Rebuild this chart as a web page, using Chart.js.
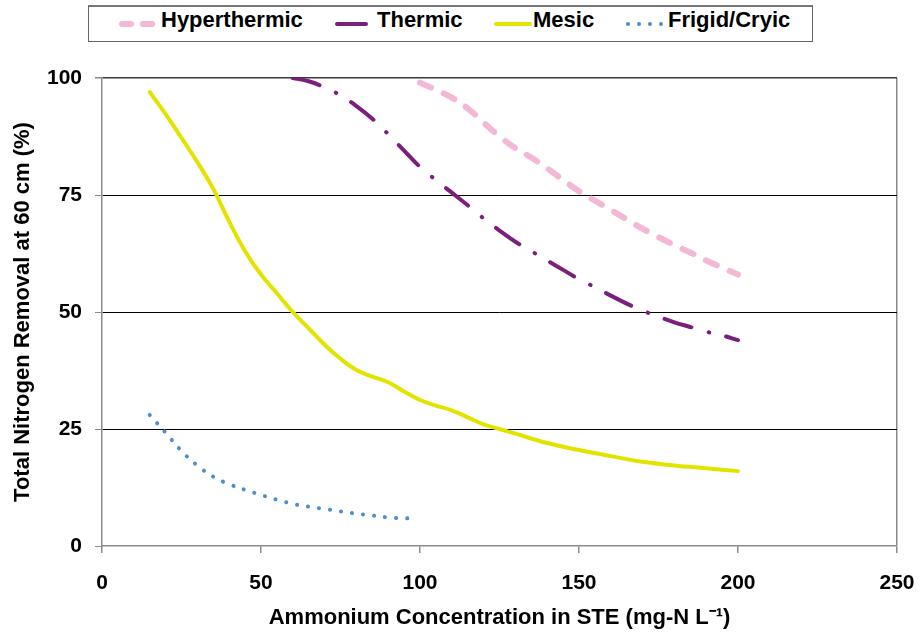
<!DOCTYPE html>
<html>
<head>
<meta charset="utf-8">
<script src="https://cdn.jsdelivr.net/npm/chart.js@4.4.1/dist/chart.umd.min.js"></script>
<style>
  body { margin: 0; background: #fff; }
  #wrap { position: relative; width: 921px; height: 636px; }
  #leyenda {
    position: absolute; left: 88px; top: 5px; width: 723px; height: 34px;
    border: 1px solid #666; border-top: 2px solid #777; background: #fff;
  }
  #leyenda svg { position: absolute; left: 0; top: 0; }
  #leyenda span {
    position: absolute; top: 0; line-height: 34px;
    font: bold 22px "Liberation Sans", Arial, sans-serif; color: #000; white-space: nowrap;
  }
</style>
</head>
<body>
<div id="wrap">
  <canvas id="grafica" width="921" height="636"></canvas>
  <div id="leyenda">
    <svg width="723" height="34">
      <line x1="33" y1="17" x2="42" y2="17" stroke="#F2B8D5" stroke-width="6" stroke-linecap="round"/>
      <line x1="54" y1="17" x2="63" y2="17" stroke="#F2B8D5" stroke-width="6" stroke-linecap="round"/>
      <line x1="248" y1="17" x2="277" y2="17" stroke="#7B1F7D" stroke-width="4" stroke-linecap="round"/>
      <line x1="407" y1="17" x2="441" y2="17" stroke="#E3E300" stroke-width="4" stroke-linecap="round"/>
      <circle cx="539" cy="17" r="2" fill="#4F8DCB"/>
      <circle cx="550" cy="17" r="2" fill="#4F8DCB"/>
      <circle cx="561" cy="17" r="2" fill="#4F8DCB"/>
      <circle cx="572" cy="17" r="2" fill="#4F8DCB"/>
    </svg>
    <span style="left:72px">Hyperthermic</span>
    <span style="left:288px">Thermic</span>
    <span style="left:444px">Mesic</span>
    <span style="left:579px">Frigid/Cryic</span>
  </div>
</div>
<script>
// concentraciones (mg-N/L) y remocion (%) de cada regimen de temperatura
const xHiper = [100, 105, 110, 115, 120, 125, 130, 135, 140, 145, 150, 155, 160, 165, 170, 175, 180, 185, 190, 195, 200];
const yHiper = [99, 97.5, 95.8, 93.5, 90.5, 87.5, 85, 83, 80.7, 78.2, 75.8, 73.8, 71.8, 69.8, 67.8, 66, 64.3, 62.7, 61, 59.5, 58];

const xTermico = [60, 65, 70, 75, 80, 85, 90, 95, 100, 105, 110, 115, 120, 125, 130, 135, 140, 145, 150, 155, 160, 165, 170, 175, 180, 185, 190, 195, 200];
const yTermico = [100, 99.3, 98, 96.3, 94, 91.3, 88, 84.5, 81, 78.2, 75.5, 72.8, 70, 67.4, 65, 63, 61, 59, 57, 55.3, 53.5, 51.8, 50.3, 49, 47.8, 46.8, 45.8, 45, 44];

const xMesico = [15, 20, 25, 30, 35, 40, 45, 50, 55, 60, 65, 70, 75, 80, 85, 90, 95, 100, 105, 110, 115, 120, 125, 130, 140, 150, 160, 170, 180, 190, 200];
const yMesico = [97, 92.3, 87.2, 82, 76.3, 69.3, 63, 58, 54, 50, 46.5, 43, 40, 37.6, 36.2, 35, 33, 31.2, 30, 29, 27.5, 26, 25, 24, 22, 20.5, 19.2, 18, 17.2, 16.6, 16];

const xFrigido = [15, 20, 25, 30, 35, 40, 45, 50, 55, 60, 65, 70, 75, 80, 85, 90, 95, 98];
const yFrigido = [28, 24.2, 20.3, 17.2, 14.8, 13.2, 12, 10.9, 9.9, 9, 8.4, 7.9, 7.4, 6.9, 6.5, 6.1, 5.9, 6];

const ticksX = [0, 50, 100, 150, 200, 250];
const ticksY = [0, 25, 50, 75, 100];

const etiquetas = ['Hyperthermic', 'Thermic', 'Mesic', 'Frigid/Cryic'];

// junta los arreglos x,y en puntos para la grafica
function puntos(xs, ys) {
    return xs.map((x, i) => ({ x: x, y: ys[i] }));
}

const fuente = '"Liberation Sans", Arial, sans-serif';

window.onload = function () {
    var ctx = document.getElementById('grafica').getContext('2d');

    new Chart(ctx, {
        type: 'line',
        data: {
            datasets: [{
                label: etiquetas[0],
                data: puntos(xHiper, yHiper),
                borderColor: '#F2B8D5',
                borderWidth: 6,
                borderDash: [12, 14],
                borderCapStyle: 'round'
            }, {
                label: etiquetas[1],
                data: puntos(xTermico, yTermico),
                borderColor: '#7B1F7D',
                borderWidth: 4,
                borderDash: [28, 18, 0.5, 17.5],
                borderCapStyle: 'round'
            }, {
                label: etiquetas[2],
                data: puntos(xMesico, yMesico),
                borderColor: '#E3E300',
                borderWidth: 4,
                borderCapStyle: 'round'
            }, {
                label: etiquetas[3],
                data: puntos(xFrigido, yFrigido),
                borderColor: '#4F8DCB',
                borderWidth: 4,
                borderDash: [0.1, 11],
                borderCapStyle: 'round'
            }]
        },
        options: {
            responsive: false,
            animation: false,
            events: [],
            layout: { padding: { top: 78, right: 24, bottom: 0, left: 0 } },
            elements: {
                point: { radius: 0 },
                line: { tension: 0.4, fill: false }
            },
            plugins: { legend: { display: false }, tooltip: { enabled: false } },
            scales: {
                x: {
                    type: 'linear',
                    min: ticksX[0],
                    max: ticksX[ticksX.length - 1],
                    afterBuildTicks: s => { s.ticks = ticksX.map(v => ({ value: v })); },
                    // el ultimo rotulo cabe en el margen derecho
                    afterFit: s => { s.height = 90; s.paddingRight = 0; s.paddingLeft = 0; },
                    ticks: { color: '#000', padding: 18, font: { family: fuente, size: 21, weight: 'bold' } },
                    grid: {
                        color: c => (c.tick && c.tick.value === 250) ? '#8a8a8a' : 'rgba(0,0,0,0)',
                        lineWidth: 1.5,
                        tickColor: '#8a8a8a',
                        tickLength: 7
                    },
                    border: { color: '#8a8a8a', width: 1.5 },
                    title: {
                        display: true,
                        text: 'Ammonium Concentration in STE (mg-N L\u207B\u00B9)',
                        color: '#000',
                        font: { family: fuente, size: 22, weight: 'bold' },
                        padding: { top: 0, bottom: 5 }
                    }
                },
                y: {
                    min: ticksY[0],
                    max: ticksY[ticksY.length - 1],
                    afterBuildTicks: s => { s.ticks = ticksY.map(v => ({ value: v })); },
                    afterFit: s => { s.width = 102; },
                    ticks: { color: '#000', padding: 13, font: { family: fuente, size: 21, weight: 'bold' } },
                    grid: {
                        color: c => (c.tick && c.tick.value === 0) ? 'rgba(0,0,0,0)' : (c.tick && c.tick.value === 100 ? '#3a3a3a' : '#000'),
                        lineWidth: c => (c.tick && c.tick.value === 100) ? 1.5 : 1,
                        tickColor: '#8a8a8a',
                        tickLength: 7
                    },
                    border: { color: '#8a8a8a', width: 1.5 },
                    title: {
                        display: true,
                        text: 'Total Nitrogen Removal at 60 cm (%)',
                        color: '#000',
                        font: { family: fuente, size: 22, weight: 'bold' },
                        padding: { top: 10, bottom: 0 }
                    }
                }
            }
        }
    });
};
</script>
</body>
</html>
